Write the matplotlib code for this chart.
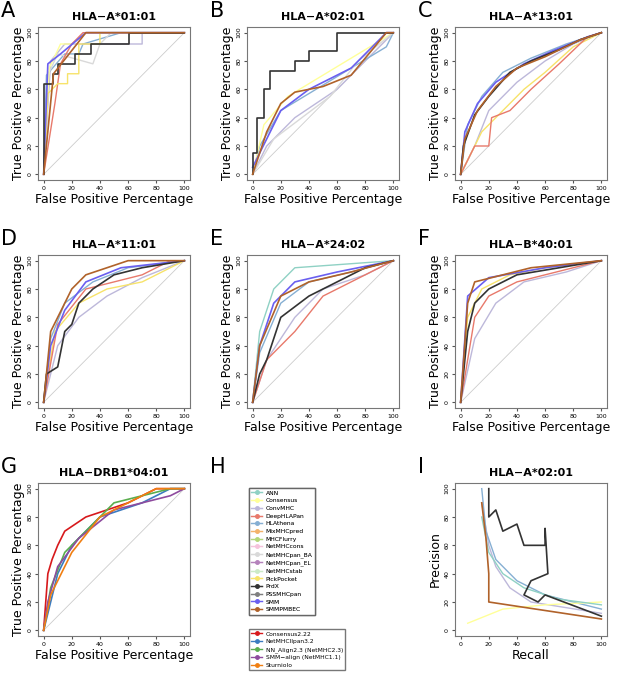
import matplotlib.pyplot as plt
from matplotlib.lines import Line2D

method_names = ["ANN", "Consensus", "ConvMHC", "DeepHLAPan", "HLAthena", "MixMHCpred",
                "MHCFlurry", "NetMHCcons", "NetMHCpan_BA", "NetMHCpan_EL", "NetMHCstab",
                "PickPocket", "PrdX", "PSSMHCpan", "SMM", "SMMPMBEC"]
method_colors = ["#8fd1c4", "#ffff99", "#bdb8da", "#e8796b", "#86afd3", "#f3b36a",
                 "#b3d77a", "#f5c3dc", "#d9d9d9", "#b482bb", "#cceac6", "#f7e36a",
                 "#333333", "#7f7f7f", "#6a5ff0", "#b0622a"]
class2_names = ["Consensus2.22", "NetMHCIIpan3.2", "NN_Align2.3 (NetMHC2.3)",
                "SMM\u2212align (NetMHC1.1)", "Sturniolo"]
class2_colors = ["#d7191c", "#3b7cc0", "#5aae4e", "#8e4b9e", "#f07f12"]

titles = ["HLA\u2212A*01:01", "HLA\u2212A*02:01", "HLA\u2212A*13:01", "HLA\u2212A*11:01",
          "HLA\u2212A*24:02", "HLA\u2212B*40:01", "HLA\u2212DRB1*04:01"]

# ROC curves per panel: method -> (FPR %, TPR %)
roc_a = {
    "ConvMHC": ([0, 5, 15, 70, 70, 100], [0, 80, 92, 92, 100, 100]),
    "HLAthena": ([0, 2, 15, 25, 28, 55, 100], [0, 70, 85, 85, 92, 100, 100]),
    "NetMHCpan_BA": ([0, 3, 10, 35, 40, 48, 100], [0, 70, 85, 78, 92, 100, 100]),
    "Consensus": ([0, 4, 12, 20, 30, 100], [0, 75, 92, 92, 100, 100]),
    "DeepHLAPan": ([0, 8, 12, 20, 28, 100], [0, 50, 78, 92, 100, 100]),
    "PickPocket": ([0, 3, 10, 17, 17, 25, 25, 40, 40, 100], [0, 57, 64, 64, 71, 71, 92, 92, 100, 100]),
    "SMM": ([0, 3, 12, 30, 100], [0, 78, 85, 100, 100]),
    "PrdX": ([0, 0, 7, 7, 10, 10, 22, 22, 34, 34, 61, 61, 100],
             [0, 64, 64, 71, 71, 78, 78, 85, 85, 92, 92, 100, 100]),
    "SMMPMBEC": ([0, 7, 30, 100], [0, 71, 100, 100]),
}
roc_b = {
    "ConvMHC": ([0, 10, 30, 60, 80, 100], [0, 20, 40, 60, 80, 100]),
    "HLAthena": ([0, 5, 20, 45, 70, 95, 100], [0, 20, 45, 60, 75, 90, 100]),
    "Consensus": ([0, 8, 25, 50, 75, 100], [0, 35, 55, 70, 85, 100]),
    "NetMHCpan_BA": ([0, 15, 35, 55, 75, 100], [0, 25, 40, 55, 80, 100]),
    "SMM": ([0, 20, 40, 70, 95, 100], [5, 45, 60, 75, 100, 100]),
    "PrdX": ([0, 0, 3, 3, 8, 8, 12, 12, 30, 30, 40, 40, 60, 60, 100],
             [0, 15, 15, 40, 40, 60, 60, 73, 73, 80, 80, 87, 87, 100, 100]),
    "SMMPMBEC": ([0, 10, 20, 30, 50, 70, 95, 100], [0, 30, 50, 58, 62, 70, 100, 100]),
}
roc_c = {
    "ConvMHC": ([0, 10, 20, 40, 60, 80, 100], [0, 20, 45, 65, 80, 92, 100]),
    "PickPocket": ([0, 15, 30, 45, 60, 80, 100], [0, 30, 45, 60, 72, 90, 100]),
    "HLAthena": ([0, 5, 15, 30, 50, 75, 100], [0, 35, 55, 72, 82, 92, 100]),
    "DeepHLAPan": ([0, 10, 20, 22, 35, 50, 70, 90, 100], [0, 20, 20, 40, 45, 60, 78, 97, 100]),
    "SMM": ([0, 3, 12, 25, 45, 65, 90, 100], [0, 30, 50, 65, 78, 87, 97, 100]),
    "PrdX": ([0, 2, 10, 20, 35, 50, 70, 85, 100], [0, 20, 42, 55, 72, 80, 88, 95, 100]),
    "SMMPMBEC": ([0, 3, 12, 25, 40, 60, 85, 100], [0, 25, 45, 62, 75, 83, 95, 100]),
}
roc_d = {
    "ConvMHC": ([0, 10, 25, 45, 70, 100], [0, 40, 60, 75, 88, 100]),
    "PickPocket": ([0, 8, 25, 45, 70, 100], [0, 50, 70, 80, 85, 100]),
    "HLAthena": ([0, 5, 15, 35, 60, 100], [0, 45, 70, 85, 95, 100]),
    "DeepHLAPan": ([0, 10, 30, 70, 90, 100], [0, 55, 80, 90, 100, 100]),
    "SMM": ([0, 5, 15, 30, 55, 100], [0, 40, 65, 85, 95, 100]),
    "PrdX": ([0, 2, 10, 15, 20, 25, 35, 50, 70, 100], [0, 20, 25, 50, 55, 70, 80, 90, 95, 100]),
    "SMMPMBEC": ([0, 5, 20, 30, 60, 100], [0, 50, 80, 90, 100, 100]),
}
roc_e = {
    "ANN": ([0, 5, 15, 30, 100], [0, 50, 80, 95, 100]),
    "ConvMHC": ([0, 10, 30, 50, 80, 100], [0, 30, 60, 80, 90, 100]),
    "HLAthena": ([0, 5, 20, 40, 70, 100], [0, 35, 70, 85, 92, 100]),
    "DeepHLAPan": ([0, 10, 30, 50, 70, 100], [0, 30, 50, 75, 85, 100]),
    "SMM": ([0, 5, 15, 30, 60, 100], [0, 40, 70, 85, 92, 100]),
    "PrdX": ([0, 5, 10, 20, 40, 60, 80, 100], [0, 20, 30, 60, 75, 85, 95, 100]),
    "SMMPMBEC": ([0, 5, 20, 40, 70, 100], [0, 40, 75, 85, 92, 100]),
}
roc_f = {
    "ConvMHC": ([0, 10, 25, 45, 75, 100], [0, 45, 70, 85, 92, 100]),
    "PickPocket": ([0, 5, 15, 35, 60, 100], [0, 60, 80, 90, 95, 100]),
    "DeepHLAPan": ([0, 10, 20, 40, 100], [0, 60, 75, 85, 100]),
    "SMM": ([0, 5, 20, 60, 100], [0, 75, 88, 95, 100]),
    "PrdX": ([0, 5, 10, 20, 40, 70, 100], [0, 50, 70, 80, 90, 95, 100]),
    "SMMPMBEC": ([0, 5, 10, 50, 100], [0, 70, 85, 95, 100]),
}
roc_g = {
    "Consensus2.22": ([0, 3, 6, 10, 15, 30, 60, 80, 100], [0, 40, 50, 60, 70, 80, 90, 100, 100]),
    "NetMHCIIpan3.2": ([0, 5, 10, 20, 40, 70, 90, 100], [0, 20, 40, 60, 80, 90, 100, 100]),
    "NN_Align2.3 (NetMHC2.3)": ([0, 5, 15, 30, 50, 90, 100], [0, 30, 55, 70, 90, 100, 100]),
    "SMM\u2212align (NetMHC1.1)": ([0, 3, 10, 25, 50, 90, 100], [0, 20, 45, 65, 85, 95, 100]),
    "Sturniolo": ([0, 5, 20, 40, 60, 80, 100], [0, 25, 55, 80, 90, 100, 100]),
}
roc_panels = [roc_a, roc_b, roc_c, roc_d, roc_e, roc_f, roc_g]

# precision-recall for HLA-A*02:01: method -> (recall %, precision %)
pr_i = {
    "ConvMHC": ([15, 20, 25, 35, 50, 100], [90, 60, 45, 30, 20, 12]),
    "HLAthena": ([15, 18, 25, 40, 60, 100], [100, 70, 50, 35, 25, 15]),
    "Consensus": ([5, 30, 60, 100], [5, 15, 18, 20]),
    "ANN": ([15, 20, 30, 45, 70, 100], [80, 55, 40, 30, 22, 18]),
    "PrdX": ([20, 20, 25, 30, 40, 45, 60, 60, 62, 50, 45, 55, 60, 100],
             [100, 80, 85, 70, 75, 60, 60, 72, 40, 35, 25, 20, 25, 10]),
    "SMMPMBEC": ([15, 18, 20, 20, 100], [90, 65, 40, 20, 8]),
}

fig = plt.figure(figsize=(6.38, 6.8), dpi=100)
W, H = 638, 680
lefts = [38, 247, 455]
tops = [27, 255, 483]
aw, ah = 152, 153
letters = "ABCDEFGHI"


def make_ax(r, c):
    return fig.add_axes([lefts[c] / W, 1 - (tops[r] + ah) / H, aw / W, ah / H])


def style(ax, xlabel, ylabel, title):
    ax.set_xlim(-4, 104)
    ax.set_ylim(-4, 104)
    ax.set_xticks(range(0, 101, 20))
    ax.set_yticks(range(0, 101, 20))
    ax.tick_params(labelsize=4.5, length=2, pad=2, color="#555555")
    for lab in ax.get_yticklabels():
        lab.set_rotation(90)
        lab.set_va("center")
    for s in ax.spines.values():
        s.set_color("#777777")
        s.set_linewidth(0.8)
    ax.set_xlabel(xlabel, fontsize=9, labelpad=2)
    ax.set_ylabel(ylabel, fontsize=9, labelpad=2)
    ax.set_title(title, fontsize=8, fontweight="bold", pad=5)


for i, curves in enumerate(roc_panels):
    r, c = divmod(i, 3)
    ax = make_ax(r, c)
    ax.plot([0, 100], [0, 100], color="#cccccc", lw=0.6)
    cmap = dict(zip(method_names + class2_names, method_colors + class2_colors))
    for name, (x, y) in curves.items():
        dark = name in ("PrdX", "SMMPMBEC", "SMM") or name in class2_names
        ax.plot(x, y, color=cmap[name], lw=1.2 if dark else 1.0)
    style(ax, "False Positive Percentage", "True Positive Percentage", titles[i])
    fig.text((lefts[c] - 37) / W, 1 - (tops[r] - 26) / H, letters[i], fontsize=15, va="top")

# panel I
ax = make_ax(2, 2)
cmap = dict(zip(method_names, method_colors))
for name, (x, y) in pr_i.items():
    ax.plot(x, y, color=cmap[name], lw=1.2 if name in ("PrdX", "SMMPMBEC") else 1.0)
style(ax, "Recall", "Precision", "HLA\u2212A*02:01")
fig.text((455 - 37) / W, 1 - (483 - 26) / H, "I", fontsize=15, va="top")

# panel H legends
fig.text((247 - 37) / W, 1 - (483 - 26) / H, "H", fontsize=15, va="top")
h1 = [Line2D([], [], color=col, marker="o", ms=2.5, lw=1) for col in method_colors]
h2 = [Line2D([], [], color=col, marker="o", ms=2.5, lw=1) for col in class2_colors]
leg_kw = dict(loc="upper left", fontsize=4.3, frameon=True, fancybox=False,
              edgecolor="#555555", handlelength=1.8, labelspacing=0.42, borderpad=0.4,
              handletextpad=0.6)
leg1 = fig.legend(h1, method_names, bbox_to_anchor=(246 / W, 1 - 485 / H), **leg_kw)
fig.legend(h2, class2_names, bbox_to_anchor=(246 / W, 1 - 626 / H), **leg_kw)
fig.add_artist(leg1)

fig.savefig("out.png", dpi=100)
